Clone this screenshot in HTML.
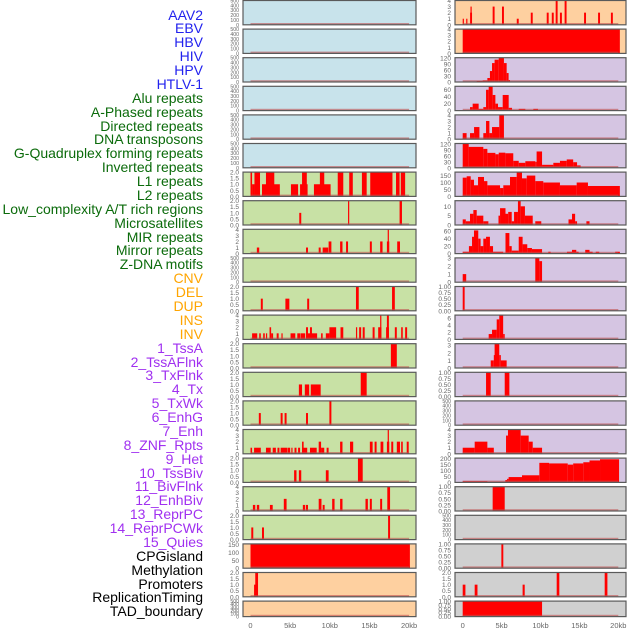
<!DOCTYPE html>
<html><head><meta charset="utf-8"><style>
html,body{margin:0;padding:0;background:#fff;}
#wrap{position:relative;width:630px;height:630px;overflow:hidden;font-family:"Liberation Sans",sans-serif;}
.lab{position:absolute;right:427px;font-size:14px;line-height:14px;white-space:nowrap;}
svg{position:absolute;left:0;top:0;}
</style></head><body>
<div id="wrap">
<div id="labels"></div>
<svg id="svg" width="630" height="630"></svg>
</div>
<script>
// ---- labels ----
const labelNames = ["AAV2","EBV","HBV","HIV","HPV","HTLV-1","Alu repeats","A-Phased repeats","Directed repeats","DNA transposons","G-Quadruplex forming repeats","Inverted repeats","L1 repeats","L2 repeats","Low_complexity A/T rich regions","Microsatellites","MIR repeats","Mirror repeats","Z-DNA motifs","CNV","DEL","DUP","INS","INV","1_TssA","2_TssAFlnk","3_TxFlnk","4_Tx","5_TxWk","6_EnhG","7_Enh","8_ZNF_Rpts","9_Het","10_TssBiv","11_BivFlnk","12_EnhBiv","13_ReprPC","14_ReprPCWk","15_Quies","CPGisland","Methylation","Promoters","ReplicationTiming","TAD_boundary"];
const labelGroupSizes = [6,13,5,15,5];
const groupColors = ["#2222ee","#0b6b0b","#ffa500","#a030f0","#000000"];

// ---- axis tick sets ----
const T500 = ["0","100","200","300","400","500"];
const T2 = ["0.0","0.5","1.0","1.5","2.0"];
const T4 = ["0","1","2","3","4"];
const T1 = ["0.00","0.25","0.50","0.75","1.00"];
const xTickLabels = ["0","5kb","10kb","15kb","20kb"];
const xTickValues = [0,5,10,15,20];

// ---- left column data: [startKb, endKb, value] ----
const L6 = [[0,0.2,2],[0.2,0.5,1],[0.5,1.2,2],[1.45,3.7,1],[1.95,3.0,2],[5.1,6.0,1],[6.25,7.2,1],[6.5,7.1,2],[8.0,10.1,1],[8.75,9.3,2],[11.0,11.7,2],[12.45,12.9,2],[14.05,14.65,2],[15.1,17.9,2],[18.35,18.8,2],[18.95,19.5,2]];
const L7 = [[6.15,6.4,1],[12.3,12.45,2],[18.8,19.1,2]];
const L8 = [[0.8,1.1,1],[7.0,7.25,1],[8.6,8.85,1],[9.1,9.8,1],[9.85,10.2,2],[11.3,11.6,2],[12.05,12.3,2],[15.05,15.3,2],[16.35,16.65,2],[17.2,17.5,2],[17.3,17.45,4],[18.5,18.85,2]];
const L10 = [[1.3,1.55,1],[4.4,4.9,1],[7.15,7.4,1],[13.3,13.65,2],[17.85,18.2,2]];
const L11 = [[0.2,0.85,1],[1.1,1.3,1],[1.6,1.8,1],[1.95,2.1,1],[2.4,2.6,2],[2.6,2.85,1],[3.3,3.55,1],[3.9,4.05,1],[5.05,5.65,1],[5.9,6.25,1],[6.3,6.9,1],[7.0,7.25,2],[7.25,8.4,1],[7.5,7.75,2],[8.9,9.1,1],[9.5,9.95,1],[9.95,10.8,2],[11.35,11.7,2],[13.3,13.45,2],[13.7,13.95,2],[14.15,14.4,2],[15.4,15.65,2],[16.1,16.5,2],[16.35,16.5,4],[17.1,17.45,2],[17.2,17.45,4],[18.2,18.45,2],[19.0,19.2,2],[19.5,19.75,2]];
const L12 = [[17.7,18.45,2]];
const L13 = [[6.1,6.5,1],[6.85,7.4,1],[7.6,8.85,1],[13.9,14.65,2]];
const L14 = [[1.05,1.3,1],[3.8,4.05,1],[4.3,4.55,1],[7.0,7.25,1],[9.95,10.2,2]];
const L15 = [[0,0.2,1],[0.45,1.3,1],[1.95,2.55,1],[2.8,3.2,1],[3.4,3.65,1],[3.8,4.65,1],[4.7,5.0,1],[5.15,5.3,1],[5.55,5.8,1],[6.0,6.25,1],[6.5,7.15,1],[6.5,6.7,2],[7.5,8.35,1],[8.6,8.9,2],[8.9,9.3,1],[9.6,9.85,1],[11.3,11.6,2],[12.55,12.95,2],[15.05,15.4,2],[15.65,15.9,2],[16.4,16.75,2],[17.2,17.5,2],[17.3,17.45,4],[17.75,18.0,2],[18.45,18.85,2],[19.0,19.2,2],[19.7,19.95,2]];
const L16 = [[5.5,5.8,1],[6.1,6.4,1],[9.5,9.85,1],[13.55,14.15,2]];
const L17 = [[0.3,0.6,1],[0.8,1.1,1],[2.45,2.8,1],[4.2,4.55,2],[6.6,6.9,1],[7.0,7.25,1],[8.6,8.95,2],[9.1,9.35,1],[10.3,10.6,2],[11.3,11.6,2],[14.5,14.8,2],[15.05,15.3,2],[16.35,16.6,2],[17.25,17.6,4]];
const L18 = [[0.1,0.35,1],[1.45,1.7,1],[17.35,17.6,2]];
const L19 = [[0,20.1,155]];
const L20 = [[0.45,0.7,1],[0.6,0.95,2]];

// ---- right column data ----
const R0 = [[0,0.15,1],[0.45,0.6,1],[0.95,1.2,2],[1.0,1.15,3],[3.85,4.1,3],[5.05,5.3,3],[6.95,7.2,1],[8.75,9.0,2],[10.8,11.05,2],[11.45,11.7,2],[11.95,12.2,4],[12.5,12.75,2],[13.1,13.35,4],[15.6,15.85,2],[17.4,17.65,2],[19.05,19.3,2]];
const R1 = [[0,20.2,4]];
const R2 = [[1.8,2.57,5],[2.57,3.17,8],[3.17,3.5,20],[3.5,3.77,55],[3.77,4.1,95],[4.1,4.63,112],[4.63,5.3,122],[5.3,5.65,95],[5.65,5.9,45],[5.9,6.08,10]];
const R3 = [[0.94,1.28,10],[1.28,2.05,20],[2.05,2.65,5],[2.65,3.0,10],[3.0,3.34,60],[3.34,3.85,70],[3.85,4.2,45],[4.2,4.54,20],[4.54,5.14,10],[5.14,5.91,45],[5.91,6.34,8],[7.2,8.05,5],[9.08,9.68,5]];
const R4 = [[0,0.5,1],[0.94,1.46,1],[1.46,2.15,2],[2.65,3.0,1],[3.0,3.43,3],[3.43,3.77,1],[3.77,4.7,2],[4.7,5.3,4]];
const R5 = [[0,0.77,122],[0.77,2.65,105],[2.65,3.17,95],[3.17,4.2,75],[4.2,4.63,68],[4.63,5.48,76],[5.48,6.5,73],[6.5,7.2,35],[7.2,8.05,25],[8.05,9.33,33],[9.33,9.5,30],[9.5,10.2,82],[10.2,11.65,15],[11.65,12.5,25],[12.5,13.37,35],[13.37,14.2,42],[14.2,14.7,28],[14.7,15.16,12]];
const R6 = [[0,0.51,135],[0.51,1.03,145],[1.03,1.45,120],[1.45,1.97,80],[1.97,2.74,140],[2.74,3.17,110],[3.17,4.8,80],[4.8,5.22,60],[5.22,6.08,80],[6.08,6.94,140],[6.94,7.62,175],[7.62,8.23,130],[8.23,9.33,150],[9.33,10.36,110],[10.36,12.5,100],[12.5,14.65,80],[14.65,16.1,100],[16.1,20.2,75]];
const R7 = [[0,0.4,3],[0.4,0.94,2],[0.94,1.37,6],[1.37,1.8,8],[1.8,2.65,5],[2.65,3.3,2],[4.6,4.8,5],[4.8,5.5,9],[5.5,5.85,6],[5.85,6.3,7],[6.3,6.6,2],[6.6,7.1,7],[7.1,7.45,13],[7.45,8.0,10],[8.0,9.0,5],[9.33,10.1,2],[13.6,14.05,3],[14.05,14.45,6],[14.45,14.7,2],[15.9,16.3,2]];
const R8 = [[0,0.8,5],[0.8,1.2,20],[1.2,1.45,45],[1.45,2.0,62],[2.0,2.3,40],[2.3,2.65,20],[2.65,3.0,40],[3.0,3.5,45],[3.5,3.9,20],[3.9,5.2,5],[5.5,6.0,55],[6.0,6.3,20],[6.3,7.2,8],[7.2,7.7,45],[7.7,8.3,25],[8.3,8.9,15],[8.9,10.2,12],[11.0,11.3,5],[13.4,14.05,5],[14.05,14.6,10],[14.6,14.9,5],[15.75,16.3,10],[16.3,16.7,5],[17.1,17.55,5],[19.6,20.2,5]];
const R9 = [[0,0.45,1],[9.33,9.85,3],[9.85,10.2,2.6]];
const R10 = [[0,0.25,1]];
const R11 = [[3.34,3.77,1.5],[3.77,4.37,2.7],[4.37,4.7,5.6],[4.7,5.2,6.8],[5.2,5.4,1.5]];
const R12 = [[3.6,4.0,1],[4.0,4.1,1.7],[4.1,4.7,3.2],[4.7,4.9,1.7],[4.9,5.65,1]];
const R13 = [[3.0,3.6,1],[5.4,6.0,1]];
const R15 = [[0,1.54,1],[1.54,3.17,2],[3.17,4.0,1],[5.57,5.82,3],[5.82,7.45,4],[7.45,8.48,3],[8.48,9.0,2],[9.0,10.2,1]];
const R16 = [[0,3.17,10],[3.17,5.48,5],[5.48,5.7,20],[5.7,5.9,30],[5.9,7.62,45],[7.62,9.85,60],[9.85,11.1,165],[11.1,13.5,160],[13.5,14.2,150],[14.2,15.5,160],[15.5,16.3,170],[16.3,17.65,185],[17.65,20.1,195]];
const R17 = [[3.85,5.4,1]];
const R19 = [[4.97,5.22,1]];
const R20 = [[0,0.35,1],[1.54,1.9,1],[7.7,7.97,1],[12.08,12.42,2],[18.25,18.6,2]];
const R21 = [[0,10.2,1]];

const BLUE="#c8e3eb", GREEN="#c8e1a5", PEACH="#fed0a0", PURPLE="#d5c5e2", GRAY="#d0d0d0";
// col,row,bg,ticks,ymax,data
const panels = [
 [0,0,BLUE,T500,500,[]],[0,1,BLUE,T500,500,[]],[0,2,BLUE,T500,500,[]],[0,3,BLUE,T500,500,[]],[0,4,BLUE,T500,500,[]],[0,5,BLUE,T500,500,[]],
 [0,6,GREEN,T2,2,L6],[0,7,GREEN,T2,2,L7],[0,8,GREEN,T4,4,L8],[0,9,GREEN,T500,500,[]],[0,10,GREEN,T2,2,L10],[0,11,GREEN,T4,4,L11],
 [0,12,GREEN,T2,2,L12],[0,13,GREEN,T2,2,L13],[0,14,GREEN,T2,2,L14],[0,15,GREEN,T4,4,L15],[0,16,GREEN,T2,2,L16],[0,17,GREEN,T4,4,L17],[0,18,GREEN,T2,2,L18],
 [0,19,PEACH,["0","50","100","150"],155,L19],[0,20,PEACH,T2,2,L20],[0,21,PEACH,T500,500,[]],
 [1,0,PEACH,T4,4,R0],[1,1,PEACH,T4,4,R1],[1,2,PURPLE,["0","30","60","90","120"],122,R2],[1,3,PURPLE,["0","20","40","60"],70,R3],
 [1,4,PURPLE,T4,4,R4],[1,5,PURPLE,["0","30","60","90","120"],122,R5],[1,6,PURPLE,["0","50","100","150"],175,R6],[1,7,PURPLE,["0","5","10"],13,R7],
 [1,8,PURPLE,["0","20","40","60"],65,R8],[1,9,PURPLE,["0","1","2","3"],3,R9],[1,10,PURPLE,T1,1,R10],[1,11,PURPLE,["0","2","4","6"],6.8,R11],
 [1,12,PURPLE,["0","1","2","3"],3.2,R12],[1,13,PURPLE,T1,1,R13],[1,14,PURPLE,T500,500,[]],[1,15,PURPLE,T4,4,R15],[1,16,PURPLE,["0","50","100","150","200"],205,R16],
 [1,17,GRAY,T1,1,R17],[1,18,GRAY,T500,500,[]],[1,19,GRAY,T1,1,R19],[1,20,GRAY,T2,2,R20],[1,21,GRAY,T1,1,R21]
];

const NS="http://www.w3.org/2000/svg";
const svg=document.getElementById('svg');
function mk(tag,attrs,parent){const e=document.createElementNS(NS,tag);for(const k in attrs)e.setAttribute(k,attrs[k]);(parent||svg).appendChild(e);return e;}
const cols=[{x0:243,x1:416,z:250.5,k:7.93},{x0:455,x1:626,z:462.7,k:7.78}];
function xScale(c,kb){return cols[c].z+kb*cols[c].k;}
function rowTop(r){return 0.5+r*28.6;}
function rowH(r){return r===21?15.5:24.3;}

// labels
const labDiv=document.getElementById('labels');
let gi=0,cnt=0;
labelNames.forEach((n,i)=>{
  while(cnt>=labelGroupSizes[gi]){gi++;cnt=0;}
  cnt++;
  const d=document.createElement('div');
  d.className='lab';
  d.style.top=(15+i*13.88-7.5)+'px';
  d.style.color=groupColors[gi];
  d.textContent=n;
  
  
  labDiv.appendChild(d);
});

panels.forEach(p=>{
  const [c,r,bg,ticks,ymax,data]=p;
  const g=mk('g',{});
  
  
  const top=rowTop(r),h=rowH(r),x0=cols[c].x0,x1=cols[c].x1,bot=top+h;
  const yS=v=>bot-Math.min(v,ymax)/ymax*h;
  const bgR=mk('rect',{x:x0,y:top,width:x1-x0,height:h,fill:bg},g);
  
  
  data.forEach(s=>{
    const xa=xScale(c,s[0]),xb=xScale(c,s[1]),yv=yS(s[2]);
    const b=mk('rect',{x:xa,y:yv,width:Math.max(1.2,xb-xa),height:bot-yv,fill:'#ff0000'},g);
    
    
  });
  const bl=mk('rect',{x:xScale(c,0),y:bot-1.8,width:xScale(c,20)-xScale(c,0),height:1.8,fill:'#c05050',opacity:0.6},g);
  
  
  const br=mk('rect',{x:x0,y:top,width:x1-x0,height:h,fill:'none',stroke:'#5a5a5a','stroke-width':1.2},g);
  
  
  const fs=ticks.length>5?5.2:6.5;
  ticks.forEach(t=>{
    const v=parseFloat(t);
    const tx=mk('text',{x:x0-4,y:yS(v)+fs*0.38,'font-size':fs,fill:'#666','text-anchor':'end','font-family':'Liberation Sans, sans-serif'},g);
    tx.textContent=t;
    
    
  });
});
[0,1].forEach(c=>{
  xTickValues.forEach((v,i)=>{
    const t=mk('text',{x:xScale(c,v),y:628,'font-size':7.5,fill:'#666','text-anchor':'middle','font-family':'Liberation Sans, sans-serif'});
    t.textContent=xTickLabels[i];
    
    
  });
});
</script>
</body></html>
